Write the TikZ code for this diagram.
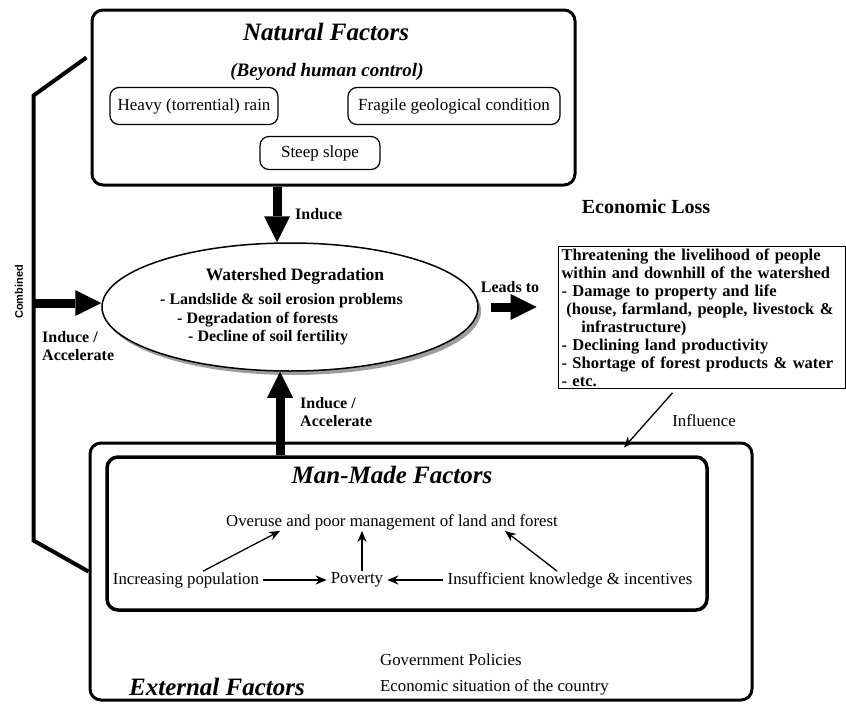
\documentclass[tikz,border=0pt]{standalone}
\usepackage{fontspec}
\setmainfont{Liberation Serif}
\newfontfamily\sidefont{Liberation Sans}
\usepackage{tikz}
\usetikzlibrary{arrows.meta,positioning,shapes.geometric,shadows}
\definecolor{wdInk}{HTML}{000000}
\definecolor{wdShade}{HTML}{3A3A3A}
\tikzset{
  % Outer factor frames (thick, rounded)
  framebox/.style={rectangle,rounded corners=11pt,
    draw=wdInk,line width=3pt,inner sep=0pt},
  % Small rounded factor boxes
  itembox/.style={rectangle,rounded corners=9pt,
    draw=wdInk,line width=1.2pt,minimum height=37pt,inner xsep=3pt,
    font=\fontsize{17}{20}\selectfont},
  % Ellipse with shadow
  wsdell/.style={ellipse,draw=wdInk,line width=1.5pt,fill=white,
    minimum width=376pt,minimum height=128pt,
    drop shadow={shadow xshift=3pt,shadow yshift=-4pt,fill=wdShade}},
  % Loss box
  econbox/.style={rectangle,draw=wdInk,line width=0.8pt,
    text width=280pt,align=left,inner xsep=3.5pt,inner ysep=2pt,
    minimum height=139pt,font=\fontsize{16.5}{18}\selectfont\bfseries},
  % Titles
  ttl/.style={font=\fontsize{25}{30}\selectfont\bfseries\itshape,inner sep=1pt},
  subttl/.style={font=\fontsize{19}{23}\selectfont\bfseries\itshape,inner sep=1pt},
  hdr/.style={font=\fontsize{17.5}{21}\selectfont\bfseries,inner sep=1pt},
  % Texts
  txt/.style={font=\fontsize{16.8}{19}\selectfont,inner sep=1pt},
  btxt/.style={font=\fontsize{16}{19}\selectfont\bfseries,inner sep=1pt},
  lbl/.style={font=\fontsize{16}{18}\selectfont\bfseries,inner sep=1pt,align=left},
  % Arrows
  bigarr/.style={line width=9pt,-{Triangle[length=26pt,width=26pt,line width=0pt]}},
  arr/.style={line width=1.3pt,-{Stealth[length=11pt,width=9pt]}},
  combl/.style={line width=4pt,line join=miter},
}
\begin{document}
\begin{tikzpicture}[x=1pt,y=-1pt]
  \useasboundingbox (0,0) rectangle (846,704);

  %% --- NATURAL FACTORS ---
  \node[framebox,minimum width=483pt,minimum height=175pt] (natural) at (333.5,97.5) {};
  \node[ttl] (natttl) at (326,32) {Natural Factors};
  \node[subttl] (natsub) at (327,72) {(Beyond human control)};
  \node[itembox,minimum width=168pt] (rain) at (194,106) {Heavy (torrential) rain};
  \node[itembox,minimum width=212pt] (geo) at (454,106) {Fragile geological condition};
  \node[itembox,minimum width=120pt,minimum height=33pt] (steep) at (320,153) {Steep slope};

  %% --- WATERSHED DEGRADATION ---
  \node[wsdell] (wsd) at (290,307) {};
  \node[hdr] (wsdhead) at (295,276) {Watershed Degradation};
  \node[btxt,anchor=west] (slide) at (159,301) {- Landslide \& soil erosion problems};
  \node[btxt,anchor=west] (forest) at (176,320) {- Degradation of forests};
  \node[btxt,anchor=west] (fert) at (187,338) {- Decline of soil fertility};

  %% --- ECONOMIC LOSS ---
  \node[econbox] (econ) at (701.5,317.5)
    {Threatening the livelihood of people\\
     within and downhill of the watershed\\
     - Damage to property and life\\
     \hspace*{0.3em}(house, farmland, people, livestock \&\\
     \hspace*{1.2em}infrastructure)\\
     - Declining land productivity\\
     - Shortage of forest products \& water\\
     - etc.};
  \node[hdr,font=\fontsize{20}{24}\selectfont\bfseries] (econhead) at (646,207) {Economic Loss};

  %% --- EXTERNAL / MAN-MADE FACTORS ---
  \node[framebox,minimum width=662pt,minimum height=257pt] (ext) at (421,571.5) {};
  \node[framebox,line width=3.5pt,minimum width=600pt,minimum height=153pt] (mm) at (407,533.5) {};
  \node[ttl] (mmttl) at (392,475) {Man-Made Factors};
  \node[txt] (over) at (392,522) {Overuse and poor management of land and forest};
  \node[txt] (pop) at (186,580) {Increasing population};
  \node[txt] (pov) at (357,580) {Poverty};
  \node[txt] (insuf) at (570,580) {Insufficient knowledge \& incentives};
  \node[ttl] (extttl) at (217,687) {External Factors};
  \node[txt,anchor=west] (gov) at (379,660) {Government Policies};
  \node[txt,anchor=west] (ecosit) at (379,687) {Economic situation of the country};

  %% --- CONNECTORS ---
  \draw[bigarr] ([xshift=-13pt]wsd.north |- natural.south) -- ([xshift=-13pt]wsd.north);
  \node[lbl,anchor=west] (induce) at (294,214) {Induce};

  \draw[bigarr] ([xshift=-10pt]wsd.south |- mm.north) -- ([xshift=-10pt]wsd.south);
  \node[lbl,anchor=west] (accmid) at (299,412) {Induce /\\Accelerate};

  \draw[combl] ([xshift=-4pt,yshift=40pt]natural.west) -- ++(-53,38) coordinate (cmbtop)
    -- ++(0,445) -- (ext.west);
  \draw[bigarr] ([yshift=4pt]cmbtop |- wsd.west) -- ([yshift=4pt]wsd.west);
  \node[lbl,rotate=90,font=\fontsize{11}{14}\sidefont\bfseries] (comb) at (19,292) {Combined};
  \node[lbl,anchor=west] (accleft) at (41,346) {Induce /\\Accelerate};

  \draw[bigarr] ([xshift=12pt]wsd.east) -- ([xshift=-21pt]econ.west |- wsd.east);
  \node[lbl] (leads) at (510,287) {Leads to};

  \draw[arr] ([xshift=-29pt,yshift=-4pt]econ.south) -- ([xshift=203pt,yshift=-6pt]ext.north);
  \node[txt] (infl) at (704,421) {Influence};

  % inside the man-made frame
  \draw[arr] ([xshift=17pt]pop.north) -- ([xshift=-112pt]over.south);
  \draw[arr] ([xshift=5pt]pov.north) -- ([xshift=5pt]pov.north |- over.south);
  \draw[arr] ([xshift=-13pt]insuf.north) -- ([xshift=113pt]over.south);
  \draw[arr,shorten <=3pt,shorten >=3pt] (pop) -- (pov);
  \draw[arr,shorten <=3pt,shorten >=3pt] (insuf) -- (pov);
\end{tikzpicture}
\end{document}
